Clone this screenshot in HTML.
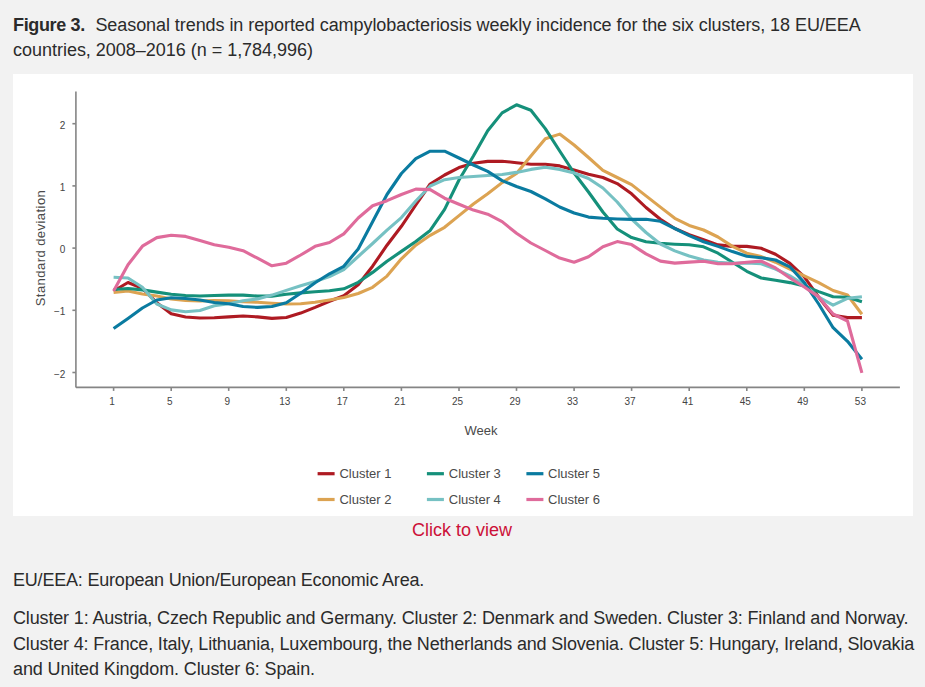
<!DOCTYPE html>
<html><head><meta charset="utf-8">
<style>
html,body{margin:0;padding:0;}
body{width:925px;height:687px;background:#f2f2f2;position:relative;overflow:hidden;font-family:"Liberation Sans",sans-serif;color:#2b2b2b;}
.t{position:absolute;left:13px;font-size:18px;white-space:nowrap;}
#panel{position:absolute;left:13px;top:74px;width:900px;height:442px;background:#fff;}
svg{position:absolute;left:0;top:0;}
.ax line{stroke:#858585;stroke-width:1.6;}
.tl{font-size:9px;fill:#444;font-family:"Liberation Sans",sans-serif;}
.ln path{fill:none;stroke-width:3.1;stroke-linejoin:round;stroke-linecap:butt;}
.lg{font-size:13px;fill:#4a4a4a;font-family:"Liberation Sans",sans-serif;}
#click{position:absolute;left:412px;top:520px;font-size:18px;color:#cc1038;white-space:nowrap;}
</style></head><body>
<div class="t" style="top:15px;letter-spacing:-0.065px"><b style="letter-spacing:-0.35px">Figure 3.</b><span style="margin-left:10.5px">Seasonal trends in reported campylobacteriosis weekly incidence for the six clusters, 18 EU/EEA</span></div>
<div class="t" style="top:40px;letter-spacing:-0.02px">countries, 2008&#8211;2016 (n = 1,784,996)</div>
<div id="panel">
<svg width="900" height="442" viewBox="0 0 900 442">
<g class="ax">
<line x1="62.900000000000006" y1="17.400000000000006" x2="62.900000000000006" y2="313.4"/>
<line x1="62.900000000000006" y1="313.4" x2="886.9" y2="313.4"/>
<line x1="59.400000000000006" y1="49.7" x2="62.900000000000006" y2="49.7"/><text x="52.400000000000006" y="54.7" text-anchor="end" class="tl" style="font-size:10px">2</text><line x1="59.400000000000006" y1="111.9" x2="62.900000000000006" y2="111.9"/><text x="52.400000000000006" y="116.9" text-anchor="end" class="tl" style="font-size:10px">1</text><line x1="59.400000000000006" y1="174.1" x2="62.900000000000006" y2="174.1"/><text x="52.400000000000006" y="179.1" text-anchor="end" class="tl" style="font-size:10px">0</text><line x1="59.400000000000006" y1="236.3" x2="62.900000000000006" y2="236.3"/><text x="52.400000000000006" y="241.3" text-anchor="end" class="tl" style="font-size:10px">−1</text><line x1="59.400000000000006" y1="298.5" x2="62.900000000000006" y2="298.5"/><text x="52.400000000000006" y="303.5" text-anchor="end" class="tl" style="font-size:10px">−2</text>
<line x1="100.6" y1="313.4" x2="100.6" y2="316.9"/><text x="99.1" y="331.4" text-anchor="middle" class="tl" style="font-size:10px">1</text><line x1="158.2" y1="313.4" x2="158.2" y2="316.9"/><text x="156.7" y="331.4" text-anchor="middle" class="tl" style="font-size:10px">5</text><line x1="215.7" y1="313.4" x2="215.7" y2="316.9"/><text x="214.2" y="331.4" text-anchor="middle" class="tl" style="font-size:10px">9</text><line x1="273.3" y1="313.4" x2="273.3" y2="316.9"/><text x="271.8" y="331.4" text-anchor="middle" class="tl" style="font-size:10px">13</text><line x1="330.8" y1="313.4" x2="330.8" y2="316.9"/><text x="329.3" y="331.4" text-anchor="middle" class="tl" style="font-size:10px">17</text><line x1="388.4" y1="313.4" x2="388.4" y2="316.9"/><text x="386.9" y="331.4" text-anchor="middle" class="tl" style="font-size:10px">21</text><line x1="446.0" y1="313.4" x2="446.0" y2="316.9"/><text x="444.5" y="331.4" text-anchor="middle" class="tl" style="font-size:10px">25</text><line x1="503.5" y1="313.4" x2="503.5" y2="316.9"/><text x="502.0" y="331.4" text-anchor="middle" class="tl" style="font-size:10px">29</text><line x1="561.1" y1="313.4" x2="561.1" y2="316.9"/><text x="559.6" y="331.4" text-anchor="middle" class="tl" style="font-size:10px">33</text><line x1="618.6" y1="313.4" x2="618.6" y2="316.9"/><text x="617.1" y="331.4" text-anchor="middle" class="tl" style="font-size:10px">37</text><line x1="676.2" y1="313.4" x2="676.2" y2="316.9"/><text x="674.7" y="331.4" text-anchor="middle" class="tl" style="font-size:10px">41</text><line x1="733.8" y1="313.4" x2="733.8" y2="316.9"/><text x="732.3" y="331.4" text-anchor="middle" class="tl" style="font-size:10px">45</text><line x1="791.3" y1="313.4" x2="791.3" y2="316.9"/><text x="789.8" y="331.4" text-anchor="middle" class="tl" style="font-size:10px">49</text><line x1="848.9" y1="313.4" x2="848.9" y2="316.9"/><text x="847.4" y="331.4" text-anchor="middle" class="tl" style="font-size:10px">53</text>
</g>
<text transform="translate(32.3,174) rotate(-90)" text-anchor="middle" class="lg" style="font-size:13px;letter-spacing:0.45px">Standard deviation</text>
<text x="468" y="361" text-anchor="middle" class="lg" style="font-size:13px">Week</text>
<g class="ln">
<path d="M100.6,217.0 L115.0,208.5 L129.4,214.4 L143.8,228.7 L158.2,239.7 L172.6,243.0 L186.9,244.0 L201.3,243.8 L215.7,242.9 L230.1,242.0 L244.5,242.9 L258.9,244.4 L273.3,243.5 L287.7,239.1 L302.1,233.4 L316.5,227.3 L330.8,221.7 L345.2,210.8 L359.6,192.2 L374.0,171.2 L388.4,152.3 L402.8,131.0 L417.2,110.0 L431.6,101.0 L446.0,93.6 L460.4,89.3 L474.7,87.4 L489.1,87.2 L503.5,88.7 L517.9,90.3 L532.3,90.3 L546.7,91.9 L561.1,96.0 L575.5,100.2 L589.9,103.5 L604.2,109.6 L618.6,119.8 L633.0,133.5 L647.4,145.3 L661.8,154.5 L676.2,160.6 L690.6,165.7 L705.0,170.9 L719.4,172.4 L733.8,172.4 L748.2,174.3 L762.5,180.3 L776.9,189.4 L791.3,202.9 L805.7,223.2 L820.1,241.3 L834.5,243.6 L848.9,243.6" stroke="#ae1a22"/>
<path d="M100.6,218.5 L115.0,217.0 L129.4,220.0 L143.8,222.0 L158.2,225.0 L172.6,226.5 L186.9,227.0 L201.3,226.5 L215.7,226.8 L230.1,227.8 L244.5,228.3 L258.9,229.3 L273.3,230.0 L287.7,229.7 L302.1,228.3 L316.5,226.0 L330.8,223.5 L345.2,219.5 L359.6,213.3 L374.0,202.1 L388.4,184.8 L402.8,171.2 L417.2,161.3 L431.6,153.3 L446.0,141.6 L460.4,130.0 L474.7,119.8 L489.1,108.6 L503.5,99.5 L517.9,82.1 L532.3,64.8 L546.7,60.1 L561.1,71.0 L575.5,83.5 L589.9,96.4 L604.2,103.5 L618.6,110.6 L633.0,121.9 L647.4,133.1 L661.8,144.3 L676.2,151.4 L690.6,156.0 L705.0,163.0 L719.4,172.4 L733.8,179.2 L748.2,182.6 L762.5,188.2 L776.9,195.0 L791.3,201.8 L805.7,208.6 L820.1,216.5 L834.5,221.0 L848.9,240.2" stroke="#dca352"/>
<path d="M100.6,215.5 L115.0,214.5 L129.4,215.9 L143.8,218.1 L158.2,220.2 L172.6,221.5 L186.9,222.0 L201.3,221.5 L215.7,221.1 L230.1,221.1 L244.5,222.1 L258.9,222.1 L273.3,220.2 L287.7,218.9 L302.1,217.7 L316.5,216.7 L330.8,214.8 L345.2,208.3 L359.6,198.4 L374.0,187.3 L388.4,177.4 L402.8,167.5 L417.2,156.4 L431.6,135.4 L446.0,106.0 L460.4,82.0 L474.7,56.8 L489.1,38.9 L503.5,30.8 L517.9,36.3 L532.3,54.6 L546.7,77.0 L561.1,99.0 L575.5,118.0 L589.9,138.0 L604.2,155.0 L618.6,163.6 L633.0,167.7 L647.4,169.3 L661.8,170.2 L676.2,170.8 L690.6,172.8 L705.0,179.2 L719.4,188.2 L733.8,197.3 L748.2,204.0 L762.5,206.3 L776.9,208.6 L791.3,212.0 L805.7,217.6 L820.1,222.8 L834.5,223.2 L848.9,227.7" stroke="#15907a"/>
<path d="M100.6,203.3 L115.0,204.0 L129.4,213.2 L143.8,230.0 L158.2,235.9 L172.6,237.8 L186.9,236.5 L201.3,231.8 L215.7,229.7 L230.1,226.8 L244.5,224.9 L258.9,221.1 L273.3,216.4 L287.7,211.7 L302.1,207.5 L316.5,202.6 L330.8,195.6 L345.2,182.5 L359.6,169.5 L374.0,156.2 L388.4,143.6 L402.8,127.0 L417.2,112.0 L431.6,105.7 L446.0,103.5 L460.4,102.5 L474.7,101.5 L489.1,100.5 L503.5,98.4 L517.9,95.4 L532.3,93.3 L546.7,95.4 L561.1,99.0 L575.5,104.5 L589.9,114.0 L604.2,128.0 L618.6,145.0 L633.0,158.5 L647.4,170.0 L661.8,176.9 L676.2,182.0 L690.6,186.0 L705.0,188.2 L719.4,189.4 L733.8,188.9 L748.2,189.8 L762.5,195.0 L776.9,201.8 L791.3,210.8 L805.7,223.2 L820.1,231.1 L834.5,224.4 L848.9,222.8" stroke="#76c1c3"/>
<path d="M100.6,254.6 L115.0,244.5 L129.4,234.0 L143.8,226.0 L158.2,223.8 L172.6,224.5 L186.9,226.0 L201.3,228.5 L215.7,229.7 L230.1,232.5 L244.5,233.4 L258.9,232.5 L273.3,228.7 L287.7,219.3 L302.1,208.8 L316.5,199.8 L330.8,192.3 L345.2,174.9 L359.6,147.7 L374.0,120.5 L388.4,99.5 L402.8,84.7 L417.2,77.2 L431.6,77.2 L446.0,84.0 L460.4,91.0 L474.7,97.4 L489.1,106.6 L503.5,112.5 L517.9,117.5 L532.3,124.8 L546.7,133.0 L561.1,139.0 L575.5,143.1 L589.9,144.3 L604.2,145.0 L618.6,145.4 L633.0,145.3 L647.4,147.3 L661.8,154.5 L676.2,161.6 L690.6,167.7 L705.0,172.4 L719.4,177.6 L733.8,182.2 L748.2,183.7 L762.5,186.0 L776.9,192.8 L791.3,208.6 L805.7,230.0 L820.1,253.7 L834.5,267.3 L848.9,285.3" stroke="#0a7ba0"/>
<path d="M100.6,217.0 L115.0,190.8 L129.4,172.2 L143.8,163.6 L158.2,161.2 L172.6,162.4 L186.9,166.6 L201.3,170.7 L215.7,173.3 L230.1,176.7 L244.5,184.2 L258.9,191.8 L273.3,189.2 L287.7,181.0 L302.1,172.3 L316.5,168.5 L330.8,159.9 L345.2,144.0 L359.6,131.7 L374.0,126.7 L388.4,120.5 L402.8,115.1 L417.2,115.6 L431.6,124.2 L446.0,130.3 L460.4,136.1 L474.7,140.2 L489.1,147.6 L503.5,159.3 L517.9,169.0 L532.3,176.5 L546.7,184.1 L561.1,188.2 L575.5,182.8 L589.9,172.8 L604.2,167.6 L618.6,170.6 L633.0,179.9 L647.4,187.1 L661.8,189.1 L676.2,188.1 L690.6,187.3 L705.0,189.8 L719.4,189.8 L733.8,188.2 L748.2,187.1 L762.5,193.9 L776.9,204.0 L791.3,213.0 L805.7,223.0 L820.1,240.0 L834.5,247.0 L848.9,298.9" stroke="#df6b9b"/>
</g>
<g>
<rect x="304.6" y="398.1" width="17" height="3.2" fill="#ae1a22"/>
<rect x="304.6" y="423.9" width="17" height="3.2" fill="#dca352"/>
<rect x="413.9" y="398.1" width="17" height="3.2" fill="#15907a"/>
<rect x="413.9" y="423.9" width="17" height="3.2" fill="#76c1c3"/>
<rect x="513.4" y="398.1" width="17" height="3.2" fill="#0a7ba0"/>
<rect x="513.4" y="423.9" width="17" height="3.2" fill="#df6b9b"/>
<text x="326.4" y="404" class="lg">Cluster 1</text>
<text x="326.4" y="430" class="lg">Cluster 2</text>
<text x="435.8" y="404" class="lg">Cluster 3</text>
<text x="435.8" y="430" class="lg">Cluster 4</text>
<text x="535" y="404" class="lg">Cluster 5</text>
<text x="535" y="430" class="lg">Cluster 6</text>
</g>
</svg>
</div>
<div id="click">Click to view</div>
<div class="t" style="top:570px;letter-spacing:-0.2px">EU/EEA: European Union/European Economic Area.</div>
<div class="t" style="top:608px;letter-spacing:-0.15px">Cluster 1: Austria, Czech Republic and Germany. Cluster 2: Denmark and Sweden. Cluster 3: Finland and Norway.</div>
<div class="t" style="top:633.5px;letter-spacing:-0.17px">Cluster 4: France, Italy, Lithuania, Luxembourg, the Netherlands and Slovenia. Cluster 5: Hungary, Ireland, Slovakia</div>
<div class="t" style="top:659px;letter-spacing:-0.115px">and United Kingdom. Cluster 6: Spain.</div>
</body></html>
